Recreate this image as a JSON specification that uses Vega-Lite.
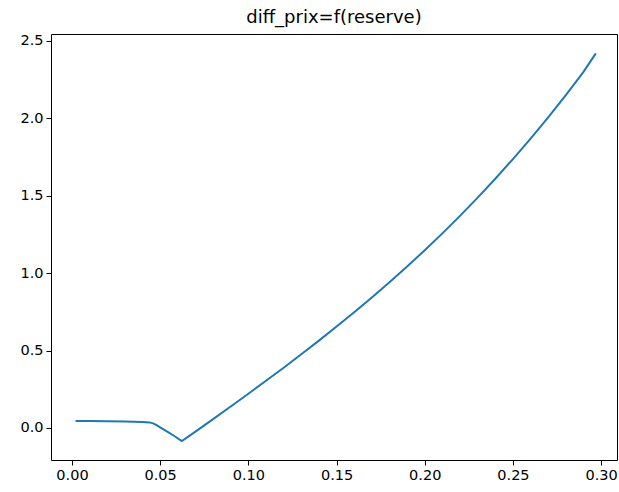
{
  "$schema": "https://vega.github.io/schema/vega-lite/v6.json",
  "autosize": "none",
  "width": 566,
  "height": 426,
  "padding": {"left": 51, "top": 34, "right": 2, "bottom": 32},
  "background": "white",
  "title": {"text": "diff_prix=f(reserve)", "font": "DejaVu Sans", "fontSize": 18, "fontWeight": "normal", "color": "black", "anchor": "middle", "offset": -12, "baseline": "bottom"},
  "config": {
    "view": {"stroke": "black", "strokeWidth": 1},
    "axis": {"domain": false, "grid": false, "tickColor": "black", "tickSize": 5, "tickWidth": 1, "labelFont": "DejaVu Sans", "labelFontSize": 14.5, "labelColor": "black", "labelPadding": 3, "title": null}
  },
  "data": {"values": [
    {"reserve": 0.002, "diff_prix": 0.045},
    {"reserve": 0.01, "diff_prix": 0.045},
    {"reserve": 0.02, "diff_prix": 0.044},
    {"reserve": 0.03, "diff_prix": 0.042},
    {"reserve": 0.04, "diff_prix": 0.039},
    {"reserve": 0.044, "diff_prix": 0.036},
    {"reserve": 0.046, "diff_prix": 0.03},
    {"reserve": 0.048, "diff_prix": 0.018},
    {"reserve": 0.05, "diff_prix": 0.004},
    {"reserve": 0.054, "diff_prix": -0.024},
    {"reserve": 0.058, "diff_prix": -0.052},
    {"reserve": 0.0623, "diff_prix": -0.085},
    {"reserve": 0.07, "diff_prix": -0.024},
    {"reserve": 0.08, "diff_prix": 0.057},
    {"reserve": 0.09, "diff_prix": 0.139},
    {"reserve": 0.1, "diff_prix": 0.221},
    {"reserve": 0.11, "diff_prix": 0.305},
    {"reserve": 0.12, "diff_prix": 0.389},
    {"reserve": 0.13, "diff_prix": 0.476},
    {"reserve": 0.14, "diff_prix": 0.564},
    {"reserve": 0.15, "diff_prix": 0.655},
    {"reserve": 0.16, "diff_prix": 0.747},
    {"reserve": 0.17, "diff_prix": 0.843},
    {"reserve": 0.18, "diff_prix": 0.941},
    {"reserve": 0.19, "diff_prix": 1.043},
    {"reserve": 0.2, "diff_prix": 1.148},
    {"reserve": 0.21, "diff_prix": 1.257},
    {"reserve": 0.22, "diff_prix": 1.37},
    {"reserve": 0.23, "diff_prix": 1.488},
    {"reserve": 0.24, "diff_prix": 1.61},
    {"reserve": 0.25, "diff_prix": 1.737},
    {"reserve": 0.26, "diff_prix": 1.869},
    {"reserve": 0.27, "diff_prix": 2.007},
    {"reserve": 0.28, "diff_prix": 2.15},
    {"reserve": 0.29, "diff_prix": 2.3},
    {"reserve": 0.297, "diff_prix": 2.42}
  ]},
  "mark": {"type": "line", "color": "#1f77b4", "strokeWidth": 2},
  "encoding": {
    "x": {"field": "reserve", "type": "quantitative", "scale": {"domain": [-0.0119, 0.309], "nice": false, "zero": false}, "axis": {"values": [0, 0.05, 0.1, 0.15, 0.2, 0.25, 0.3], "format": ".2f"}},
    "y": {"field": "diff_prix", "type": "quantitative", "scale": {"domain": [-0.207, 2.545], "nice": false, "zero": false}, "axis": {"values": [0, 0.5, 1, 1.5, 2, 2.5], "format": ".1f"}}
  }
}
